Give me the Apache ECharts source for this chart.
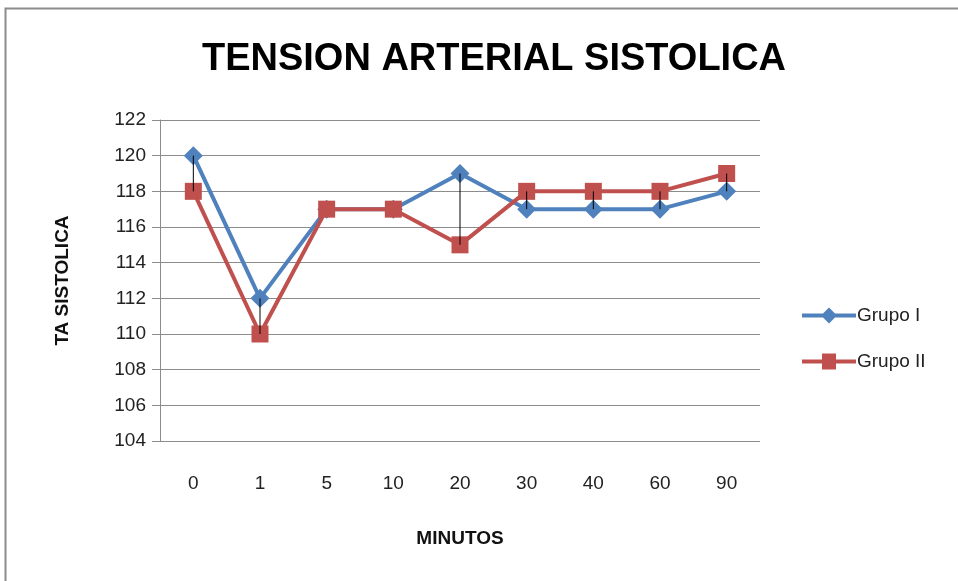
<!DOCTYPE html>
<html><head><meta charset="utf-8">
<script src="https://cdn.jsdelivr.net/npm/echarts@6/dist/echarts.min.js"></script>
<style>html,body{margin:0;padding:0;background:#fff}#c{width:958px;height:581px}</style>
</head><body><div id="c"></div>
<script>
const categories = ['0','1','5','10','20','30','40','60','90'];
const grupoI = [120,112,117,117,119,117,117,117,118];
const grupoII = [118,110,117,117,115,118,118,118,119];
const yTicks = {min:104, max:122, interval:2};

const FONT = '"Liberation Sans Narrow","Liberation Sans",sans-serif';
const chart = echarts.init(document.getElementById('c'));
const hiLo = categories.map((c,i)=>[i, grupoI[i], grupoII[i]]);
const iconDiamond = 'path://M0 6L54 6L54 10L0 10Z M27 0L35 8L27 16L19 8Z';
const iconSquare = 'path://M0 6L54 6L54 10L0 10Z M20 0L34 0L34 16L20 16Z';
chart.setOption({
  backgroundColor:'#fff',
  animation:false,
  graphic:[{type:'rect',shape:{x:5.5,y:8.5,width:1000,height:1000},style:{fill:'none',stroke:'#8c8c8c',lineWidth:2},z:-1}],
  title:{text:'TENSION ARTERIAL SISTOLICA',left:489,top:36,textAlign:'center',
    textStyle:{fontFamily:FONT,fontWeight:'bold',fontSize:38,color:'#000'}},
  grid:{left:160,right:198,top:120,bottom:140},
  legend:{orient:'vertical',left:797,top:301,itemGap:27,itemWidth:54,itemHeight:17,
    textStyle:{fontFamily:FONT,fontSize:19,color:'#222',padding:[0,0,0,-4]},
    data:[{name:'Grupo I',icon:iconDiamond},{name:'Grupo II',icon:iconSquare}]},
  xAxis:{type:'category',data:categories,boundaryGap:true,
    name:'MINUTOS',nameLocation:'middle',nameGap:88,
    nameTextStyle:{fontFamily:FONT,fontWeight:'bold',fontSize:19,color:'#111'},
    axisLine:{show:false},axisTick:{show:false},
    axisLabel:{margin:33,fontFamily:FONT,fontSize:19,color:'#222'}},
  yAxis:{type:'value',min:yTicks.min,max:yTicks.max,interval:yTicks.interval,
    name:'TA SISTOLICA',nameLocation:'middle',nameGap:88,nameRotate:90,
    nameTextStyle:{fontFamily:FONT,fontWeight:'bold',fontSize:19,color:'#111'},
    axisLine:{show:true,lineStyle:{color:'#8c8c8c',width:1}},
    axisTick:{show:true,length:8,lineStyle:{color:'#8c8c8c'}},
    splitLine:{lineStyle:{color:'#8c8c8c',width:1}},
    axisLabel:{margin:14,fontFamily:FONT,fontSize:19,color:'#222'}},
  series:[
    {name:'Grupo I',type:'line',data:grupoI,symbol:'diamond',symbolSize:19,
     itemStyle:{color:'#4F81BD'},lineStyle:{color:'#4F81BD',width:4},z:2},
    {name:'Grupo II',type:'line',data:grupoII,symbol:'rect',symbolSize:17,
     itemStyle:{color:'#C0504D'},lineStyle:{color:'#C0504D',width:4},z:3},
    {type:'custom',data:hiLo,z:4,silent:true,
     renderItem:function(params,api){
       const a=api.coord([api.value(0),api.value(1)]);
       const b=api.coord([api.value(0),api.value(2)]);
       return {type:'line',shape:{x1:a[0],y1:a[1],x2:b[0],y2:b[1]},style:{stroke:'#000',lineWidth:1}};
     }}
  ]
});
</script></body></html>
